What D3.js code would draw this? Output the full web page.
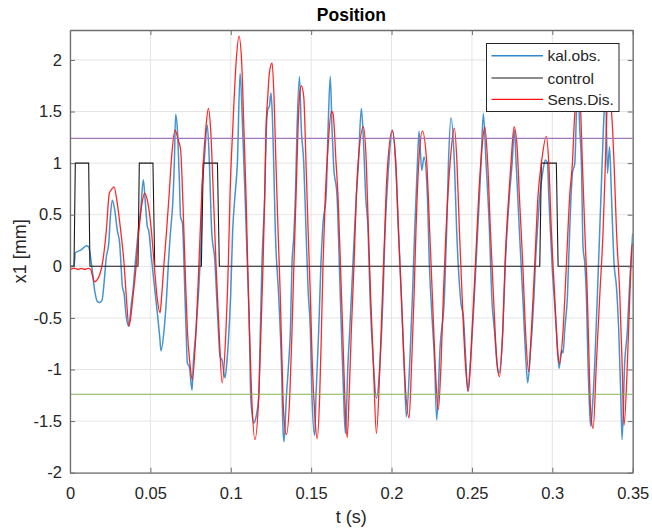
<!DOCTYPE html>
<html><head><meta charset="utf-8">
<script src="https://cdn.jsdelivr.net/npm/d3@7"></script>
<style>
html,body{margin:0;padding:0;background:#fff;}
svg{display:block;font-family:"Liberation Sans",Arial,Helvetica,sans-serif;}
</style></head>
<body>
<svg id="chart" width="652" height="530"></svg>
<script>
// ---- data ----
const titleText = "Position";
const xLabelText = "t (s)";
const yLabelText = "x1 [mm]";
const xTicks = [0, 0.05, 0.1, 0.15, 0.2, 0.25, 0.3, 0.35];
const xTickLabels = ["0", "0.05", "0.1", "0.15", "0.2", "0.25", "0.3", "0.35"];
const yTicks = [-2, -1.5, -1, -0.5, 0, 0.5, 1, 1.5, 2];
const yTickLabels = ["-2", "-1.5", "-1", "-0.5", "0", "0.5", "1", "1.5", "2"];
const seriesNames = ["kal.obs.", "control", "Sens.Dis."];
const upperLimit = 1.24;
const lowerLimit = -1.24;

const controlSignal = [[0,0],[0.0025,0],[0.0033,1],[0.0116,1],[0.0124,0],[0.0423,0],[0.0431,1],[0.0516,1],[0.0527,0],
 [0.0817,0],[0.0829,1],[0.0917,1],[0.0929,0],[0.2922,0],[0.2932,1],[0.3025,1],[0.3036,0],[0.35,0]];

const kalObs = [
 [0,0],[0.0025,0],[0.0033,0.13],[0.0070,0.16],[0.0102,0.20],[0.0116,0.19],[0.0133,0.03],[0.0153,-0.23],[0.0170,-0.34],[0.0185,-0.35],
 [0.0199,-0.33],[0.0212,-0.16],[0.0226,0.09],[0.0241,0.22],[0.0251,0.48],[0.0263,0.64],[0.0278,0.55],[0.0294,0.35],[0.0309,0.22],
 [0.0319,-0.03],[0.0326,-0.20],[0.0336,-0.26],[0.0350,-0.49],[0.0365,-0.58],[0.0382,-0.36],[0.0392,-0.23],[0.0406,0.03],[0.0423,0.32],
 [0.0440,0.55],[0.0456,0.84],[0.0469,0.61],[0.0481,0.385],[0.0489,0.35],[0.0506,0.09],[0.0523,-0.16],[0.0543,-0.45],[0.0558,-0.68],[0.0566,-0.82],
 [0.0585,-0.62],[0.0601,-0.29],[0.0612,0.03],[0.0626,0.35],[0.0639,0.61],[0.0649,1.00],[0.0657,1.47],[0.0668,1.32],[0.0680,0.84],[0.0688,0.48],
 [0.0699,0.42],[0.0709,0.03],[0.0715,-0.29],[0.0722,-0.62],[0.0730,-0.94],[0.0742,-0.97],[0.0759,-1.20],[0.0767,-0.94],[0.0784,-0.62],
 [0.0798,-0.29],[0.0809,0.03],[0.0817,0.35],[0.0821,0.74],[0.0834,1.00],[0.0854,1.37],[0.0867,1.00],[0.0881,0.35],[0.0902,0.03],[0.0912,-0.29],
 [0.0923,-0.62],[0.0933,-0.87],[0.0946,-0.91],[0.0964,-1.08],[0.0975,-0.94],[0.0989,-0.62],[0.0999,-0.29],[0.1012,0.35],[0.1026,0.68],
 [0.1041,1.00],[0.1058,1.87],[0.1074,1.32],[0.1089,0.68],[0.1103,0.03],[0.1116,-0.62],[0.1124,-1.26],[0.1132,-1.42],
 [0.1143,-1.52],[0.1157,-1.46],[0.1174,-1.26],[0.1184,-0.62],[0.1194,0.03],[0.1211,0.68],[0.1221,1.32],[0.1230,1.52],[0.1240,1.55],[0.1250,1.68],
 [0.1257,1.52],[0.1267,1.00],[0.1277,0.35],[0.1298,-0.29],[0.1315,-0.94],[0.1325,-1.58],[0.1331,-1.70],[0.1346,-1.26],[0.1360,-0.94],
 [0.1371,-0.62],[0.1381,0.03],[0.1392,0.29],[0.1402,0.68],[0.1412,1.32],[0.1427,1.84],[0.1439,1.32],[0.1454,1.00],[0.1468,0.35],[0.1481,-0.23],
 [0.1495,-0.62],[0.1505,-1.26],[0.1522,-1.64],[0.1530,-1.26],[0.1547,-0.62],[0.1561,0.03],[0.1574,0.42],[0.1593,0.68],[0.1605,1.32],[0.1619,1.84],
 [0.1630,1.32],[0.1640,0.97],[0.1661,0.68],[0.1675,0.03],[0.1688,-0.62],[0.1702,-1.26],[0.1713,-1.62],
 [0.1729,-0.94],[0.1740,-0.62],[0.1760,0.03],[0.1781,0.68],[0.1794,1.00],[0.1812,1.53],[0.1825,1.23],[0.1839,0.68],[0.1854,0.35],[0.1866,-0.29],
 [0.1887,-0.94],[0.1906,-1.28],[0.1928,-0.94],[0.1947,-0.29],[0.1960,0.35],[0.1980,0.93],[0.2005,1.31],[0.2026,1.00],[0.2043,0.35],[0.2061,-0.29],
 [0.2078,-0.94],[0.2092,-1.46],[0.2113,-0.94],[0.2130,-0.29],[0.2144,0.35],[0.2161,1.00],[0.2171,1.31],[0.2188,0.93],[0.2202,1.06],[0.2223,0.68],
 [0.2235,0.03],[0.2248,-0.39],[0.2268,-0.94],[0.2281,-1.49],
 [0.2302,-0.78],[0.2329,-0.29],[0.2343,0.35],[0.2354,1.00],[0.2370,1.44],[0.2391,1.00],[0.2405,0.35],[0.2432,-0.36],[0.2447,-0.49],[0.2463,-0.94],
 [0.2474,-1.21],[0.2490,-0.94],[0.2515,-0.29],[0.2536,0.35],[0.2557,1.00],[0.2571,1.48],[0.2588,1.00],[0.2609,0.35],[0.2623,-0.29],[0.2640,-0.62],
 [0.2656,-0.94],[0.2667,-1.04],[0.2692,-0.62],[0.2708,0.03],[0.2733,0.68],[0.2750,1.00],[0.2764,1.32],[0.2775,1.00],[0.2795,0.35],[0.2816,-0.29],
 [0.2837,-0.94],[0.2847,-1.13],
 [0.2866,-0.78],[0.2874,-0.62],[0.2886,-0.29],[0.2895,0.03],[0.2907,0.35],[0.2922,0.68],[0.2942,0.93],[0.2957,1.03],[0.2970,1.00],[0.2978,0.68],
 [0.2988,0.35],[0.2998,0.03],[0.3011,-0.29],[0.3025,-0.62],[0.3042,-0.99],[0.3057,-0.81],[0.3067,-0.84],[0.3077,-0.62],[0.3094,-0.29],[0.3108,0.35],
 [0.3125,0.90],[0.3140,1.00],[0.3150,1.48],[0.3160,1.70],[0.3171,1.32],[0.3181,1.00],[0.3191,0.19],[0.3202,0.03],[0.3212,-0.29],[0.3222,-0.94],
 [0.3233,-1.42],[0.3239,-1.55],[0.3247,-1.42],[0.3264,-0.94],[0.3280,-0.29],[0.3295,0.35],[0.3310,1.00],[0.3322,1.48],[0.3332,1.65],[0.3343,0.90],
 [0.3356,1.16],[0.3368,0.68],[0.3384,0.03],[0.3399,-0.20],[0.3413,-0.62],[0.3426,-1.26],[0.3434,-1.68],[0.3450,-0.94],[0.3467,-0.62],[0.3477,-0.29],
 [0.3488,0.03],[0.3496,0.22],[0.3500,0.32]
];

const sensDis = [
 [0,-0.03],[0.0029,-0.02],[0.0050,-0.03],[0.0070,-0.02],[0.0091,-0.03],[0.0112,-0.02],[0.0129,-0.03],[0.0143,-0.11],[0.0153,-0.15],[0.0170,-0.13],
 [0.0185,-0.08],[0.0205,0.06],[0.0226,0.35],[0.0245,0.71],[0.0261,0.75],[0.0274,0.77],[0.0294,0.61],[0.0315,0.35],[0.0336,0.03],[0.0350,-0.29],
 [0.0367,-0.58],[0.0392,-0.29],[0.0413,0.03],[0.0429,0.35],[0.0448,0.61],[0.0464,0.71],[0.0485,0.61],[0.0506,0.35],[0.0523,0.03],[0.0541,-0.29],
 [0.0560,-0.45],
 [0.0570,-0.29],[0.0585,0.03],[0.0601,0.35],[0.0616,0.68],[0.0632,1.06],[0.0653,1.32],[0.0674,1.22],[0.0688,1.13],[0.0701,0.68],[0.0715,0.03],
 [0.0730,-0.62],[0.0746,-0.94],[0.0761,-1.10],[0.0784,-0.62],[0.0802,0.03],[0.0819,0.68],[0.0829,1.00],[0.0844,1.32],[0.0861,1.53],[0.0875,1.32],
 [0.0892,0.68],[0.0908,0.03],[0.0927,-0.62],[0.0946,-1.13],[0.0970,-0.62],[0.0985,0.03],[0.0995,0.68],[0.1012,1.32],[0.1033,1.97],[0.1051,2.23],
 [0.1068,1.97],[0.1082,1.32],[0.1095,0.68],[0.1105,0.03],[0.1116,-0.62],[0.1130,-1.26],[0.1150,-1.68],
 [0.1174,-1.26],[0.1188,-0.62],[0.1201,0.03],[0.1211,0.68],[0.1219,1.32],[0.1230,1.64],[0.1240,1.87],[0.1257,1.97],[0.1269,1.64],[0.1281,1.00],
 [0.1294,0.35],[0.1308,-0.29],[0.1319,-0.94],[0.1329,-1.42],[0.1346,-1.63],[0.1367,-1.26],[0.1381,-0.62],[0.1393,0.03],[0.1406,0.68],[0.1418,1.32],
 [0.1427,1.64],[0.1439,1.75],[0.1454,1.64],[0.1468,1.00],[0.1481,0.35],[0.1495,-0.29],[0.1507,-0.94],[0.1522,-1.42],[0.1537,-1.67],[0.1553,-1.26],
 [0.1564,-0.62],[0.1574,0.03],[0.1588,0.68],[0.1605,1.16],[0.1626,1.50],[0.1636,1.48],[0.1655,1.00],[0.1667,0.68],[0.1682,0.03],[0.1696,-0.62],
 [0.1709,-1.26],[0.1724,-1.66],
 [0.1736,-1.26],[0.1750,-0.62],[0.1767,0.03],[0.1781,0.68],[0.1792,1.00],[0.1825,1.35],[0.1843,1.00],[0.1856,0.35],[0.1870,-0.29],[0.1887,-0.94],
 [0.1906,-1.62],[0.1928,-0.94],[0.1943,-0.29],[0.1958,0.35],[0.1970,0.84],[0.2005,1.32],[0.2026,1.00],[0.2043,0.35],[0.2061,-0.29],[0.2078,-0.94],
 [0.2109,-1.47],[0.2125,-0.94],[0.2140,-0.29],[0.2152,0.35],[0.2169,1.00],[0.2192,1.31],[0.2219,1.00],[0.2237,0.35],[0.2254,-0.29],[0.2271,-0.94],
 [0.2291,-1.39],
 [0.2308,-0.94],[0.2322,-0.29],[0.2339,0.35],[0.2364,1.00],[0.2391,1.34],[0.2407,1.00],[0.2422,0.35],[0.2439,-0.29],[0.2459,-0.94],[0.2478,-1.21],
 [0.2501,-0.62],[0.2522,0.03],[0.2542,0.68],[0.2563,1.16],[0.2580,1.35],[0.2598,1.00],[0.2615,0.35],[0.2634,-0.29],[0.2656,-0.94],[0.2671,-1.07],
 [0.2692,-0.62],[0.2706,0.03],[0.2729,0.68],[0.2743,1.00],[0.2762,1.35],[0.2781,1.16],[0.2795,0.68],[0.2816,0.03],[0.2833,-0.62],[0.2853,-1.02],
 [0.2870,-0.62],[0.2891,0.03],[0.2911,0.68],[0.2932,1.00],[0.2963,1.26],[0.2978,1.00],[0.2994,0.35],[0.3015,-0.29],[0.3036,-0.87],[0.3046,-0.94],
 [0.3067,-0.62],[0.3088,0.03],[0.3108,0.68],[0.3125,1.00],[0.3140,1.48],[0.3167,1.70],[0.3177,1.48],[0.3187,1.00],[0.3202,0.35],[0.3218,-0.29],
 [0.3229,-0.94],[0.3239,-1.42],[0.3254,-1.57],[0.3274,-0.94],[0.3295,-0.29],[0.3316,0.35],[0.3330,1.00],[0.3340,1.50],[0.3353,1.62],[0.3368,1.50],
 [0.3384,1.00],[0.3399,0.35],[0.3420,-0.29],[0.3434,-0.94],[0.3446,-1.54],[0.3467,-0.94],[0.3482,-0.29],[0.3496,0.19],[0.3500,0.22]
];

// ---- layout ----
const L = 70, R = 632.7, T = 30, B = 472.7;
const svg = d3.select("#chart");
const x = d3.scaleLinear().domain([0, 0.35]).range([L, R]);
const y = d3.scaleLinear().domain([-2, 2.29]).range([B, T]);
const axisColor = "#6e6e6e";
const textColor = "#262626";

// grid
const grid = svg.append("g");
grid.selectAll(".gx").data(xTicks).join("line")
  .attr("x1", d => x(d)).attr("x2", d => x(d)).attr("y1", T).attr("y2", B)
  .attr("stroke", "#e4e4e4").attr("stroke-width", 1);
grid.selectAll(".gy").data(yTicks).join("line")
  .attr("y1", d => y(d)).attr("y2", d => y(d)).attr("x1", L).attr("x2", R)
  .attr("stroke", "#e4e4e4").attr("stroke-width", 1);

// clip
svg.append("clipPath").attr("id", "clip").append("rect")
  .attr("x", L).attr("y", T).attr("width", R - L).attr("height", B - T);
const plot = svg.append("g").attr("clip-path", "url(#clip)");

const lineSmooth = d3.line().x(d => x(d[0])).y(d => y(d[1])).curve(d3.curveMonotoneX);
const lineStep = d3.line().x(d => x(d[0])).y(d => y(d[1]));

plot.append("path").datum(kalObs).attr("d", lineSmooth)
  .attr("fill", "none").attr("stroke", "#2f88cc").attr("stroke-width", 1.5).attr("stroke-opacity", 0.9);
plot.append("path").datum(controlSignal).attr("d", lineStep)
  .attr("fill", "none").attr("stroke", "#1a1a1a").attr("stroke-width", 1.1);
plot.append("path").datum(sensDis).attr("d", lineSmooth)
  .attr("fill", "none").attr("stroke", "#ff1010").attr("stroke-width", 1.3).attr("stroke-opacity", 0.9);

plot.append("line").attr("x1", L).attr("x2", R).attr("y1", y(upperLimit)).attr("y2", y(upperLimit))
  .attr("stroke", "#a276b5").attr("stroke-width", 1.4);
plot.append("line").attr("x1", L).attr("x2", R).attr("y1", y(lowerLimit)).attr("y2", y(lowerLimit))
  .attr("stroke", "#84b24c").attr("stroke-width", 1.2);

// axes
const fs = "16.5px";
const xAxis = d3.axisBottom(x).tickValues(xTicks).tickFormat((d, i) => xTickLabels[i])
  .tickSizeInner(-5).tickSizeOuter(0).tickPadding(14.5);
const yAxis = d3.axisLeft(y).tickValues(yTicks).tickFormat((d, i) => yTickLabels[i])
  .tickSizeInner(-5).tickSizeOuter(0).tickPadding(8);
const xTop = d3.axisTop(x).tickValues(xTicks).tickFormat("").tickSizeInner(-5).tickSizeOuter(0);
const yRight = d3.axisRight(y).tickValues(yTicks).tickFormat("").tickSizeInner(-5).tickSizeOuter(0);

function styleAxis(g) {
  g.select(".domain").attr("stroke", axisColor).attr("stroke-width", 1.3);
  g.selectAll(".tick line").attr("stroke", axisColor).attr("stroke-width", 1);
  g.selectAll(".tick text").attr("fill", textColor).style("font-size", fs)
    .style("font-family", '"Liberation Sans",Arial,sans-serif');
}
svg.append("g").attr("transform", `translate(0,${B})`).call(xAxis).call(styleAxis);
svg.append("g").attr("transform", `translate(${L},0)`).call(yAxis).call(styleAxis);
svg.append("g").attr("transform", `translate(0,${T})`).call(xTop).call(styleAxis);
svg.append("g").attr("transform", `translate(${R},0)`).call(yRight).call(styleAxis);

// title & labels
svg.append("text").attr("x", (L + R) / 2).attr("y", 21).attr("text-anchor", "middle")
  .attr("fill", "#000").style("font-size", "17.5px").style("font-weight", "bold").text(titleText);
svg.append("text").attr("x", (L + R) / 2).attr("y", 523).attr("text-anchor", "middle")
  .attr("fill", textColor).style("font-size", "18px").text(xLabelText);
svg.append("text").attr("transform", `translate(26,${(T + B) / 2}) rotate(-90)`).attr("text-anchor", "middle")
  .attr("fill", textColor).style("font-size", "18px").text(yLabelText);

// legend
const lg = svg.append("g");
lg.append("rect").attr("x", 486.5).attr("y", 43.5).attr("width", 132.5).attr("height", 68)
  .attr("fill", "#fff").attr("stroke", "#262626").attr("stroke-width", 1);
const legColors = ["#2f88cc", "#1a1a1a", "#ff1010"];
const legWidths = [1.5, 1.1, 1.2];
const legY = [55.7, 78.0, 99.3];
seriesNames.forEach((n, i) => {
  lg.append("line").attr("x1", 491.5).attr("x2", 543).attr("y1", legY[i]).attr("y2", legY[i])
    .attr("stroke", legColors[i]).attr("stroke-width", legWidths[i]);
  lg.append("text").attr("x", 547.5).attr("y", legY[i]).attr("dy", "0.36em")
    .attr("fill", textColor).style("font-size", "15.5px").text(n);
});
</script>
</body></html>
